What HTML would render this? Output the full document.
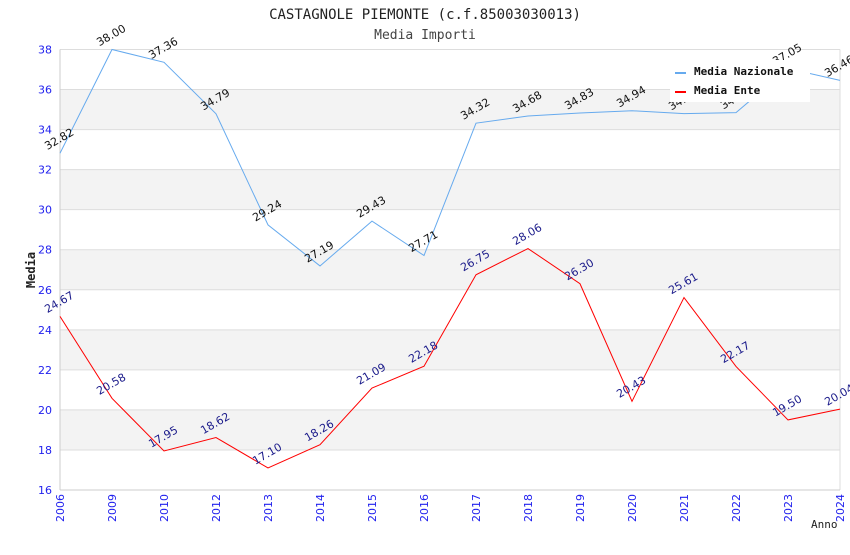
<!DOCTYPE html>
<html><head><meta charset="utf-8"><style>
body{margin:0;background:#fff;width:850px;height:550px;overflow:hidden}
svg text{font-family:"DejaVu Sans","Liberation Sans",sans-serif}
</style></head><body>
<svg id="c" width="850" height="550" xmlns="http://www.w3.org/2000/svg">
<text x="425" y="19" text-anchor="middle" font-size="14" fill="#222" style="font-family:'DejaVu Sans Mono',monospace">CASTAGNOLE PIEMONTE (c.f.85003030013)</text>
<text x="425" y="39" text-anchor="middle" font-size="13" fill="#444" style="font-family:'DejaVu Sans Mono',monospace">Media Importi</text>
<g id="bands"></g><g id="grid"></g><g id="axes"></g><g id="series"></g>
<text x="35" y="270" transform="rotate(-90 35 270)" text-anchor="middle" font-size="12" font-weight="bold" fill="#222" style="font-family:'DejaVu Sans Mono',monospace">Media</text>
<text x="811" y="528" font-size="11" fill="#222" style="font-family:'DejaVu Sans Mono',monospace">Anno</text>
<g>
<rect x="670" y="60" width="140" height="42" fill="#fff"/>
<line x1="675" y1="73" x2="686" y2="73" stroke="#66aaee" stroke-width="2"/>
<text x="694" y="75" font-size="11" font-weight="bold" fill="#111" style="font-family:'DejaVu Sans Mono',monospace">Media Nazionale</text>
<line x1="675" y1="92" x2="686" y2="92" stroke="#ff0000" stroke-width="2"/>
<text x="694" y="94" font-size="11" font-weight="bold" fill="#111" style="font-family:'DejaVu Sans Mono',monospace">Media Ente</text>
</g>
</svg>
<script>
const categories=["2006","2009","2010","2012","2013","2014","2015","2016","2017","2018","2019","2020","2021","2022","2023","2024"];
const nazionale=[32.82,38.00,37.36,34.79,29.24,27.19,29.43,27.71,34.32,34.68,34.83,34.94,34.80,34.85,37.05,36.46];
const ente=[24.67,20.58,17.95,18.62,17.10,18.26,21.09,22.18,26.75,28.06,26.30,20.43,25.61,22.17,19.50,20.04];
const yTicks=[16,18,20,22,24,26,28,30,32,34,36,38];
const NS="http://www.w3.org/2000/svg";
const L=60,R=840,T=49.5,B=490,YMIN=16,YMAX=38;
const xs=i=>L+i*(R-L)/(categories.length-1);
const ys=v=>B-(v-YMIN)/(YMAX-YMIN)*(B-T);
function mk(t,a,p){const e=document.createElementNS(NS,t);for(const k in a)e.setAttribute(k,a[k]);p.appendChild(e);return e;}
const bands=document.getElementById('bands'),grid=document.getElementById('grid'),axes=document.getElementById('axes'),ser=document.getElementById('series');
for(let i=0;i<yTicks.length-1;i++){
 if(i%2===1){const r=mk('rect',{x:L,y:ys(yTicks[i+1]),width:R-L,height:ys(yTicks[i])-ys(yTicks[i+1]),fill:'#f3f3f3'},bands);
 
 }
}
yTicks.forEach(v=>{
 const l=mk('line',{x1:L,x2:R,y1:ys(v),y2:ys(v),stroke:'#ddd'},grid);
 
 
 const t=mk('text',{x:L-8,y:ys(v)+4,'text-anchor':'end','font-size':11,fill:'#2222ee'},axes);
 
 
 t.textContent=v;
});
mk('line',{x1:L,x2:L,y1:T,y2:B,stroke:'#ccc'},axes);
mk('line',{x1:R,x2:R,y1:T,y2:B,stroke:'#ddd'},axes);
mk('line',{x1:L,x2:R,y1:B,y2:B,stroke:'#ccc'},axes);
categories.forEach((c,i)=>{
 const x=xs(i),y=B+4;
 const t=mk('text',{x:x+4,y:y,'text-anchor':'end','font-size':11,fill:'#2222ee',transform:`rotate(-90 ${x+4} ${y})`},axes);
 
 
 t.textContent=c;
});
function series(vals,color,lab,name){
 const p=mk('polyline',{points:vals.map((v,i)=>xs(i)+','+ys(v)).join(' '),fill:'none',stroke:color,'stroke-width':1},ser);
 
 
 vals.forEach((v,i)=>{
  const x=xs(i)+1,y=ys(v)-11;
  const t=mk('text',{x:x,y:y,'text-anchor':'middle','font-size':11,fill:lab,transform:`rotate(-30 ${x} ${y})`},ser);
  
  
  t.textContent=v.toFixed(2);
 });
}
series(nazionale,'#66aaee','#111','nazionale');
series(ente,'#ff0000','#1a1a8a','ente');
</script>
</body></html>
